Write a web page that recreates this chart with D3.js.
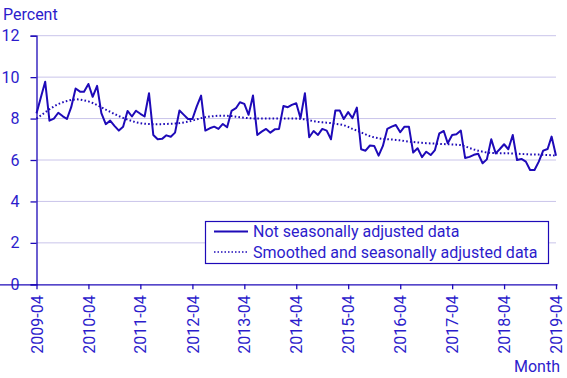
<!DOCTYPE html>
<html><head><meta charset="utf-8">
<script src="https://cdn.jsdelivr.net/npm/d3@7"></script>
<style>body{margin:0;background:#fff;}svg{display:block;font-family:Roboto,"Liberation Sans",sans-serif;}</style>
</head><body>
<svg id="c" width="567" height="378"></svg>
<script>
const startMonth = "2009-04";
const tickLabels = ["2009-04","2010-04","2011-04","2012-04","2013-04","2014-04","2015-04","2016-04","2017-04","2018-04","2019-04"];
const yTicks = [0,2,4,6,8,10,12];
const seriesNames = ["Not seasonally adjusted data","Smoothed and seasonally adjusted data"];
const rawValues = [
8.25,9.0,9.78,7.9,8.0,8.28,8.12,7.98,8.55,9.45,9.3,9.3,
9.67,9.05,9.58,8.26,7.73,7.9,7.65,7.42,7.6,8.37,8.1,8.38,
8.23,8.1,9.22,7.21,7.0,7.02,7.19,7.12,7.32,8.39,8.18,7.98,
7.98,8.58,9.11,7.42,7.53,7.61,7.5,7.74,7.58,8.37,8.5,8.79,
8.71,8.18,9.11,7.21,7.37,7.5,7.32,7.48,7.5,8.61,8.55,8.66,
8.74,8.02,9.22,7.1,7.4,7.21,7.5,7.42,7.0,8.39,8.39,7.98,
8.31,8.02,8.53,6.52,6.45,6.7,6.68,6.21,6.68,7.5,7.61,7.69,
7.34,7.61,7.61,6.36,6.57,6.14,6.4,6.24,6.48,7.29,7.4,6.81,
7.21,7.24,7.42,6.1,6.15,6.25,6.3,5.84,6.03,7.0,6.32,6.52,
6.76,6.52,7.21,6.0,6.05,5.92,5.52,5.52,5.92,6.45,6.53,7.13,
6.21];
const smoothValues = [
8.0,8.15,8.3,8.45,8.58,8.7,8.78,8.85,8.9,8.93,8.92,8.88,
8.83,8.75,8.65,8.55,8.43,8.33,8.22,8.12,8.03,7.95,7.88,7.82,
7.78,7.75,7.74,7.73,7.73,7.73,7.74,7.75,7.76,7.78,7.81,7.85,
7.9,7.96,8.02,8.07,8.1,8.12,8.14,8.14,8.13,8.12,8.09,8.06,
8.04,8.02,8.01,8.0,8.0,8.0,8.0,8.0,8.0,8.0,8.0,8.0,
8.0,7.98,7.96,7.92,7.87,7.84,7.82,7.8,7.78,7.75,7.72,7.68,
7.6,7.5,7.42,7.33,7.24,7.15,7.09,7.05,7.02,7.0,6.99,6.97,
6.95,6.92,6.89,6.87,6.85,6.83,6.81,6.8,6.79,6.78,6.77,6.76,
6.75,6.74,6.72,6.66,6.58,6.51,6.45,6.4,6.36,6.34,6.33,6.32,
6.32,6.32,6.31,6.3,6.29,6.28,6.27,6.27,6.26,6.25,6.24,6.23,
6.21];

const ink = "#1e0ab8", textCol = "#2c1ccc", gridCol = "#c9c4ea";
const fs = 16;
const svg = d3.select("#c");
const parse = d3.timeParse("%Y-%m");
const t0 = parse(startMonth);
const dates = rawValues.map((_, i) => d3.timeMonth.offset(t0, i));

const x = d3.scaleTime().domain([dates[0], dates[dates.length-1]]).range([36.5, 556]);
const y = d3.scaleLinear().domain([0, 12]).range([284.3, 35.7]);

// gridlines
svg.append("g").selectAll("line").data(yTicks.filter(d => d > 0)).join("line")
  .attr("x1", 36.5).attr("x2", 556).attr("y1", d => y(d)).attr("y2", d => y(d))
  .attr("stroke", gridCol).attr("stroke-width", 1);

// y axis
const yAxis = svg.append("g").attr("transform", "translate(36.5,0)")
  .call(d3.axisLeft(y).tickValues(yTicks).tickSize(6).tickPadding(11).tickFormat(d3.format("d")));
yAxis.select(".domain").attr("stroke", ink).attr("stroke-width", 1.3);
yAxis.selectAll(".tick line").attr("stroke", ink).attr("stroke-width", 1.3);
yAxis.selectAll("text").attr("fill", textCol).attr("font-size", fs).attr("font-family", "Roboto");

// x axis
const xAxis = svg.append("g").attr("transform", "translate(0,284.3)")
  .call(d3.axisBottom(x).tickValues(tickLabels.map(parse)).tickSize(5).tickSizeOuter(0).tickFormat(d3.timeFormat("%Y-%m")));
xAxis.select(".domain").attr("stroke", ink).attr("stroke-width", 1.3).attr("d", "M-6.5,0.5H557.5");
xAxis.selectAll(".tick line").attr("stroke", ink).attr("stroke-width", 1.3);
xAxis.selectAll("text").attr("fill", textCol).attr("font-size", fs).attr("font-family", "Roboto")
  .attr("transform", "rotate(-90)").attr("text-anchor", "end").attr("dy", "0.35em").attr("x", -11).attr("y", 0);

// lines
const line = d3.line().x((d, i) => x(dates[i])).y(d => y(d));
svg.append("path").datum(smoothValues).attr("d", line).attr("fill", "none")
  .attr("stroke", ink).attr("stroke-width", 2).attr("stroke-dasharray", "1.6,2.2");
svg.append("path").datum(rawValues).attr("d", line).attr("fill", "none")
  .attr("stroke", ink).attr("stroke-width", 2).attr("stroke-linejoin", "round");

// titles
svg.append("text").attr("x", 3).attr("y", 20).text("Percent").attr("fill", textCol).attr("font-size", fs);
svg.append("text").attr("x", 560).attr("y", 372).attr("text-anchor", "end").text("Month").attr("fill", textCol).attr("font-size", fs);

// legend
const lg = svg.append("g");
lg.append("rect").attr("x", 205.5).attr("y", 221.5).attr("width", 343).attr("height", 42)
  .attr("fill", "#fff").attr("stroke", ink).attr("stroke-width", 1.2);
seriesNames.forEach((name, i) => {
  const yy = 231.5 + i * 20.5;
  lg.append("line").attr("x1", 214).attr("x2", 248).attr("y1", yy).attr("y2", yy)
    .attr("stroke", ink).attr("stroke-width", i === 0 ? 2 : 1.6)
    .attr("stroke-dasharray", i === 0 ? null : "1.5,2");
  lg.append("text").attr("x", 253).attr("y", yy + 5.5).text(name).attr("fill", textCol).attr("font-size", fs);
});
</script>
</body></html>
